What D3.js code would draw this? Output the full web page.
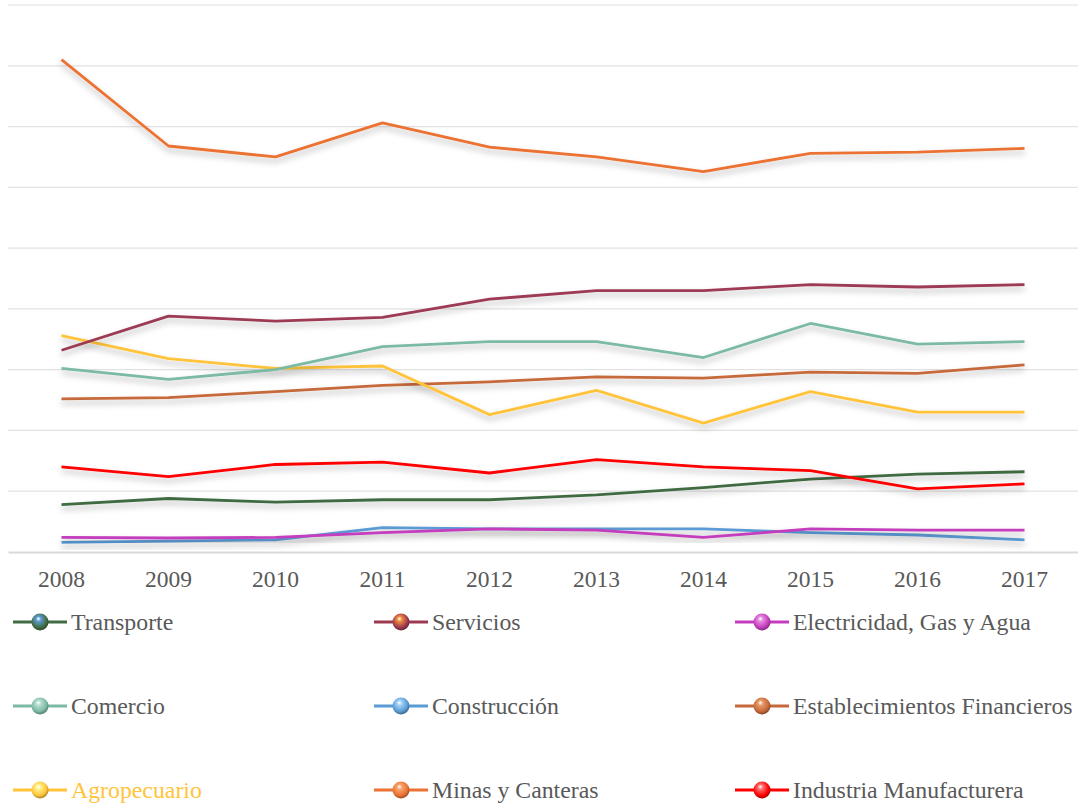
<!DOCTYPE html>
<html>
<head>
<meta charset="utf-8">
<script src="https://cdn.jsdelivr.net/npm/d3@7/dist/d3.min.js"></script>
<style>
  body { margin: 0; background: #fff; }
  svg { display: block; font-family: "Liberation Serif", "Times New Roman", serif; }
</style>
</head>
<body>
<svg id="chart" width="1078" height="807"></svg>
<script>
var years = ["2008", "2009", "2010", "2011", "2012", "2013", "2014", "2015", "2016", "2017"];

var transporte    = [3.9, 4.4, 4.1, 4.3, 4.3, 4.7, 5.3, 6.0, 6.4, 6.6];
var servicios     = [16.6, 19.4, 19.0, 19.3, 20.8, 21.5, 21.5, 22.0, 21.8, 22.0];
var electricidad  = [1.2, 1.15, 1.2, 1.6, 1.9, 1.8, 1.2, 1.9, 1.8, 1.8];
var comercio      = [15.1, 14.2, 15.0, 16.9, 17.3, 17.3, 16.0, 18.8, 17.1, 17.3];
var construccion  = [0.8, 0.9, 1.0, 2.0, 1.9, 1.9, 1.9, 1.6, 1.4, 1.0];
var financieros   = [12.6, 12.7, 13.2, 13.7, 14.0, 14.4, 14.3, 14.8, 14.7, 15.4];
var agropecuario  = [17.8, 15.9, 15.1, 15.3, 11.3, 13.3, 10.6, 13.2, 11.5, 11.5];
var minas         = [40.5, 33.4, 32.5, 35.3, 33.3, 32.5, 31.3, 32.8, 32.9, 33.2];
var industria     = [7.0, 6.2, 7.2, 7.4, 6.5, 7.6, 7.0, 6.7, 5.2, 5.6];

var gridTicks = [0, 5, 10, 15, 20, 25, 30, 35, 40, 45];

// legend order (row by row, 3 columns)
var series = [
  { name: "Transporte", values: transporte, color: "#416b42", hi: "#5b9bd5", text: "#595959" },
  { name: "Servicios", values: servicios, color: "#9c3a52", hi: "#f08a3a", text: "#595959" },
  { name: "Electricidad, Gas y Agua", values: electricidad, color: "#c43cbd", hi: "#e58ae0", text: "#595959" },
  { name: "Comercio", values: comercio, color: "#7bbaa6", hi: "#b5ddd0", text: "#595959" },
  { name: "Construcción", values: construccion, color: "#5b9bd5", hi: "#9fd0f5", text: "#595959" },
  { name: "Establecimientos Financieros", values: financieros, color: "#c6693b", hi: "#e89a6a", text: "#595959" },
  { name: "Agropecuario", values: agropecuario, color: "#ffc43a", hi: "#fff08a", text: "#ffc43a" },
  { name: "Minas y Canteras", values: minas, color: "#eb7233", hi: "#f7a56e", text: "#595959" },
  { name: "Industria Manufacturera", values: industria, color: "#ff0000", hi: "#ff7070", text: "#595959" }
];

// drawing order in plot (bottom first)
var drawOrder = [4, 2, 0, 8, 5, 6, 3, 1, 7];

var svg = d3.select("#chart");
var defs = svg.append("defs");

var shadow = defs.append("filter").attr("id", "shadow")
    .attr("x", "-5%").attr("y", "-50%").attr("width", "110%").attr("height", "200%");
shadow.append("feDropShadow")
    .attr("dx", 0).attr("dy", 4).attr("stdDeviation", 3)
    .attr("flood-color", "#000").attr("flood-opacity", 0.28);

var x = d3.scaleBand().domain(years).range([8, 1078]);
var y = d3.scaleLinear().domain([0, 45]).range([552, 5]);

// gridlines
svg.append("g").selectAll("line")
  .data(gridTicks.slice(1))
  .join("line")
    .attr("x1", 8).attr("x2", 1078)
    .attr("y1", d => y(d)).attr("y2", d => y(d))
    .attr("stroke", "#e2e2e2").attr("stroke-width", 1.2);

// x axis
var xAxis = svg.append("g")
    .attr("transform", "translate(0," + y(0) + ")")
    .call(d3.axisBottom(x).tickSize(0).tickPadding(18));
xAxis.select(".domain").attr("stroke", "#d9d9d9").attr("stroke-width", 2);
xAxis.selectAll("text")
    .attr("font-size", 23.5).attr("fill", "#595959")
    .attr("font-family", "Liberation Serif, Times New Roman, serif");

var line = d3.line()
    .x((d, i) => x(years[i]) + x.bandwidth() / 2)
    .y(d => y(d));

svg.append("g").selectAll("path")
  .data(drawOrder.map(i => series[i]))
  .join("path")
    .attr("d", d => line(d.values))
    .attr("fill", "none")
    .attr("stroke", d => d.color)
    .attr("stroke-width", 2.8)
    .attr("stroke-linejoin", "round")
    .attr("filter", "url(#shadow)");

// legend
series.forEach(function (s, i) {
  var g = defs.append("radialGradient").attr("id", "ball" + i)
      .attr("cx", "45%").attr("cy", "40%").attr("r", "60%")
      .attr("fx", "40%").attr("fy", "30%");
  g.append("stop").attr("offset", "0%").attr("stop-color", "#ffffff").attr("stop-opacity", 0.9);
  g.append("stop").attr("offset", "25%").attr("stop-color", s.hi);
  g.append("stop").attr("offset", "75%").attr("stop-color", s.color);
  g.append("stop").attr("offset", "100%").attr("stop-color", d3.color(s.color).darker(1.2));
});

var colX = [13, 374, 735];
var rowY = [622, 706, 790];

var legend = svg.append("g").selectAll("g")
  .data(series)
  .join("g")
    .attr("transform", (d, i) => "translate(" + colX[i % 3] + "," + rowY[Math.floor(i / 3)] + ")");

legend.append("line")
    .attr("x1", 0).attr("x2", 54).attr("y1", 0).attr("y2", 0)
    .attr("stroke", d => d.color).attr("stroke-width", 2.8);
legend.append("circle")
    .attr("cx", 27).attr("cy", 0).attr("r", 8.5)
    .attr("fill", (d, i) => "url(#ball" + i + ")");
legend.append("text")
    .attr("x", 58).attr("y", 0).attr("dy", "0.35em")
    .attr("font-size", 23.8)
    .attr("fill", d => d.text)
    .text(d => d.name);
</script>
</body>
</html>
